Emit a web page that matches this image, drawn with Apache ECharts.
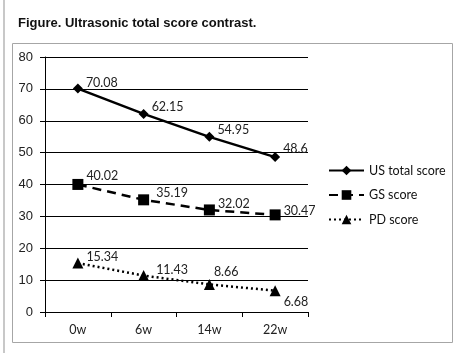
<!DOCTYPE html>
<html>
<head>
<meta charset="utf-8">
<script src="https://cdn.jsdelivr.net/npm/echarts@6/dist/echarts.min.js"></script>
<style>
  html, body { margin: 0; padding: 0; background: #fff; }
  #chart { width: 456px; height: 353px; }
</style>
</head>
<body>
<div id="chart"></div>
<script>
const weeks = ['0w', '6w', '14w', '22w']
const usTotal = [70.08, 62.15, 54.95, 48.6]
const gsScore = [40.02, 35.19, 32.02, 30.47]
const pdScore = [15.34, 11.43, 8.66, 6.68]

const LABEL_FONT = 'Lato'
const labelStyle = { show: true, position: 'right', distance: 3, color: '#222', fontSize: 12.5, fontFamily: LABEL_FONT }

// per-point label offsets
const withOffsets = (vals, offs) => vals.map((v, i) => ({ value: v, label: { offset: offs[i] } }))

const chart = echarts.init(document.getElementById('chart'))
chart.setOption({
  animation: false,
  backgroundColor: '#fff',
  title: {
    text: 'Figure. Ultrasonic total score contrast.',
    left: 13, top: 12,
    textStyle: { fontFamily: 'Liberation Sans', fontSize: 13, fontWeight: 'bold', color: '#111' }
  },
  graphic: [
    { type: 'rect', shape: { x: 3, y: 0, width: 2, height: 353 }, style: { fill: '#c8c8c8' }, silent: true },
    { type: 'rect', shape: { x: 12.5, y: 43.5, width: 440, height: 299 }, style: { fill: 'none', stroke: '#a6a6a6', lineWidth: 1 }, silent: true, z: -1 }
  ],
  legend: {
    orient: 'vertical',
    left: 328, top: 164, padding: 0,
    itemWidth: 35, itemHeight: 12, itemGap: 11.5,
    textStyle: { fontFamily: LABEL_FONT, fontSize: 12.5, color: '#111' },
    data: ['US total score', 'GS score', 'PD score']
  },
  grid: { left: 45, top: 57, width: 263, height: 255 },
  xAxis: {
    type: 'category',
    data: weeks,
    boundaryGap: true,
    axisLine: { lineStyle: { color: '#000', width: 1 } },
    axisTick: { show: true, length: 5, lineStyle: { color: '#000' } },
    axisLabel: { margin: 11, fontFamily: LABEL_FONT, fontSize: 12.5, color: '#222' }
  },
  yAxis: {
    type: 'value',
    min: 0, max: 80, interval: 10,
    axisLine: { show: true, lineStyle: { color: '#000', width: 1 } },
    axisTick: { show: true, length: 5, lineStyle: { color: '#000' } },
    axisLabel: { margin: 12, fontFamily: 'Liberation Sans', fontSize: 13, color: '#222' },
    splitLine: { lineStyle: { color: '#000', width: 1 } }
  },
  series: [
    {
      name: 'US total score', type: 'line',
      data: withOffsets(usTotal, [[0, -6], [0, -7], [0, -7], [0, -8]]),
      symbol: 'diamond', symbolSize: 10,
      lineStyle: { color: '#000', width: 2.5, type: 'solid' },
      itemStyle: { color: '#000' },
      label: labelStyle
    },
    {
      name: 'GS score', type: 'line',
      data: withOffsets(gsScore, [[0, -8], [4, -7], [0, -6], [0, -4]]),
      symbol: 'rect', symbolSize: 11,
      lineStyle: { color: '#000', width: 2.5, type: [9, 6] },
      itemStyle: { color: '#000' },
      label: labelStyle
    },
    {
      name: 'PD score', type: 'line',
      data: withOffsets(pdScore, [[0, -6], [4, -6], [-4, -12], [0, 11]]),
      symbol: 'triangle', symbolSize: 11,
      lineStyle: { color: '#000', width: 2.5, type: [2, 3] },
      itemStyle: { color: '#000' },
      label: labelStyle
    }
  ]
})
</script>
</body>
</html>
